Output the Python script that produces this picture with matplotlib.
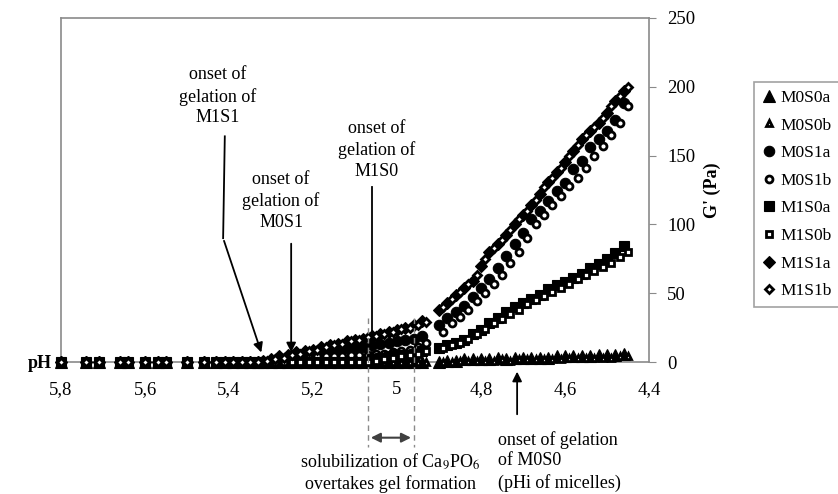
import matplotlib
matplotlib.use("Agg")
import matplotlib.pyplot as plt

plt.rcParams.update({"font.family": ["Liberation Serif", "DejaVu Serif"], "font.size": 13,
                     "mathtext.fontset": "stix"})

# ---- data: pH and G' (Pa) ----
PH_EARLY = [5.80, 5.74, 5.71, 5.66, 5.64, 5.60, 5.57, 5.55, 5.50, 5.46, 5.43, 5.41, 5.39, 5.37, 5.35, 5.33]
G_EARLY = [0, 0, 0, 0, 0, 0, 0, 0, 0, 0, 0, 0, 0, 0, 0, 0]

PH_A = [5.32, 5.30, 5.28, 5.26, 5.24, 5.22, 5.20, 5.18, 5.16, 5.14, 5.12, 5.10, 5.08, 5.06, 5.04, 5.02,
        5.00, 4.98, 4.96, 4.94, 4.90, 4.88, 4.86, 4.84, 4.82, 4.80, 4.78, 4.76, 4.74, 4.72, 4.70, 4.68,
        4.66, 4.64, 4.62, 4.60, 4.58, 4.56, 4.54, 4.52, 4.50, 4.48, 4.46]
PH_B = [5.31, 5.29, 5.27, 5.25, 5.23, 5.21, 5.19, 5.17, 5.15, 5.13, 5.11, 5.09, 5.07, 5.05, 5.03, 5.01,
        4.99, 4.97, 4.95, 4.93, 4.89, 4.87, 4.85, 4.83, 4.81, 4.79, 4.77, 4.75, 4.73, 4.71, 4.69, 4.67,
        4.65, 4.63, 4.61, 4.59, 4.57, 4.55, 4.53, 4.51, 4.49, 4.47, 4.45]

M0S0a = [0, 0, 0, 0, 0, 0, 0, 0, 0, 0, 0, 0, 0, 0, 0, 0, 0, 0, 0, 0,
         0, 1, 1, 2, 2, 2, 2, 3, 2, 3, 3, 3, 3, 3, 4, 4, 4, 4, 4, 5, 5, 5, 6]
M0S0b = [0, 0, 0, 0, 0, 0, 0, 0, 0, 0, 0, 0, 0, 0, 0, 0, 0, 0, 0, 0,
         0, 0, 1, 1, 1, 1, 1, 2, 1, 2, 2, 2, 2, 2, 2, 3, 3, 3, 3, 3, 3, 4, 4]
M0S1a = [0, 0, 0, 1, 3, 5, 6, 7, 8, 9, 10, 11, 11, 12, 13, 14, 15, 16, 17, 19,
         27, 32, 36, 41, 47, 54, 60, 68, 77, 86, 94, 104, 110, 117, 124, 130, 140, 146, 156, 162, 168, 176, 188]
M0S1b = [0, 1, 2, 3, 3, 3, 4, 4, 4, 4, 5, 5, 5, 6, 6, 7, 8, 9, 11, 14,
         22, 28, 33, 38, 44, 50, 57, 63, 72, 80, 90, 100, 107, 114, 121, 128, 134, 141, 150, 157, 165, 174, 186]
M1S0a = [0, 0, 0, 0, 0, 0, 0, 0, 0, 0, 0, 0, 0, 2, 3, 4, 5, 5, 6, 8,
         10, 12, 14, 16, 20, 23, 28, 32, 36, 40, 43, 46, 49, 53, 56, 58, 61, 64, 68, 71, 75, 79, 84]
M1S0b = [0, 0, 0, 0, 0, 0, 0, 0, 0, 0, 0, 0, 0, 1, 2, 3, 4, 5, 6, 8,
         10, 12, 14, 17, 20, 24, 28, 31, 35, 38, 42, 45, 48, 51, 54, 57, 60, 63, 66, 69, 72, 76, 80]
M1S1a = [1, 2, 4, 5, 7, 8, 9, 11, 12, 13, 15, 16, 17, 19, 20, 22, 23, 25, 27, 30,
         38, 43, 49, 54, 59, 70, 80, 86, 92, 100, 107, 114, 122, 131, 138, 145, 153, 162, 168, 174, 181, 190, 197]
M1S1b = [1, 2, 3, 5, 6, 8, 9, 11, 12, 13, 15, 16, 18, 19, 20, 22, 24, 25, 27, 29,
         40, 46, 51, 57, 63, 75, 83, 89, 96, 104, 110, 118, 127, 134, 141, 150, 158, 165, 171, 177, 186, 193, 200]

series = [("M0S0a", PH_A, M0S0a, "^", True), ("M0S0b", PH_B, M0S0b, "^", False),
          ("M0S1a", PH_A, M0S1a, "o", True), ("M0S1b", PH_B, M0S1b, "o", False),
          ("M1S0a", PH_A, M1S0a, "s", True), ("M1S0b", PH_B, M1S0b, "s", False),
          ("M1S1a", PH_A, M1S1a, "D", True), ("M1S1b", PH_B, M1S1b, "D", False)]

fig = plt.figure(figsize=(8.38, 4.94), dpi=100)
ax = fig.add_axes([61/838, 1-362/494, 588/838, 344/494])
gray = "#8a8a8a"
handles = []
for name, ph, g, mk, filled in series:
    sz = {"^": 8.5, "o": 7.5, "s": 7, "D": 6.5}[mk] if filled else (4.5 if mk == "D" else 5)
    h, = ax.plot(PH_EARLY + ph, G_EARLY + g, ls="none", marker=mk, ms=sz,
                 mfc="black" if filled else "white", mec="black", mew=2.0 if not filled else 0.8,
                 clip_on=False, zorder=3, label=name)
    handles.append(h)

ax.set_xlim(5.8, 4.4); ax.set_ylim(0, 250)
ax.set_xticks([5.8, 5.6, 5.4, 5.2, 5.0, 4.8, 4.6, 4.4])
ax.set_xticklabels(["5,8", "5,6", "5,4", "5,2", "5", "4,8", "4,6", "4,4"])
ax.tick_params(axis="x", length=0, pad=14, labelsize=13.5)
ax.yaxis.tick_right()
ax.set_yticks([0, 50, 100, 150, 200, 250])
ax.tick_params(axis="y", direction="out", length=5, color=gray, pad=8, labelsize=13.5)
for s in ax.spines.values():
    s.set_color(gray); s.set_linewidth(1.2)

fig.text(40/838, 1-363/494, "pH", ha="center", va="center", weight="bold")
fig.text(712/838, 1-190/494, "G' (Pa)", ha="center", va="center", rotation=90, weight="bold")

# ---- annotations (data coords) ----
akw = dict(arrowstyle="-|>", color="black", lw=1.3, mutation_scale=14)
ax.text(5.426, 193, "onset of\ngelation of\nM1S1", ha="center", va="center", linespacing=1.3)
ax.plot([5.410, 5.414], [164, 90], color="black", lw=1.3)
ax.annotate("", xy=(5.321, 5), xytext=(5.414, 90), arrowprops=akw)
ax.text(5.276, 117, "onset of\ngelation of\nM0S1", ha="center", va="center", linespacing=1.3)
ax.annotate("", xy=(5.252, 5), xytext=(5.252, 88), arrowprops=akw)
ax.text(5.048, 154, "onset of\ngelation of\nM1S0", ha="center", va="center", linespacing=1.3)
ax.plot([5.060, 5.060], [127, 6], color="black", lw=1.3)

for xv in (5.069, 4.960):
    ax.plot([xv, xv], [32, -62], color=gray, lw=1, ls=(0, (4, 3)), clip_on=False, zorder=4)
ax.annotate("", xy=(4.960, -55), xytext=(5.069, -55), annotation_clip=False,
            arrowprops=dict(arrowstyle="<|-|>", color="#404040", lw=1.5, mutation_scale=14))
ax.text(5.015, -80, "solubilization of Ca$_9$PO$_6$\novertakes gel formation",
        ha="center", va="center", linespacing=1.3, clip_on=False)
ax.annotate("", xy=(4.714, -5), xytext=(4.714, -40), annotation_clip=False, arrowprops=akw)
ax.text(4.760, -72, "onset of gelation\nof M0S0\n(pHi of micelles)", ha="left", va="center",
        linespacing=1.3, clip_on=False)

leg = fig.legend(handles=handles, loc="upper left", bbox_to_anchor=(754/838, 1-82/494),
                 frameon=True, fancybox=False, fontsize=12.5, labelspacing=0.66, handlelength=0.8,
                 handletextpad=0.3, borderpad=0.45, borderaxespad=0)
leg.get_frame().set_edgecolor(gray); leg.get_frame().set_linewidth(1.2)

fig.savefig("out.png", dpi=100)
